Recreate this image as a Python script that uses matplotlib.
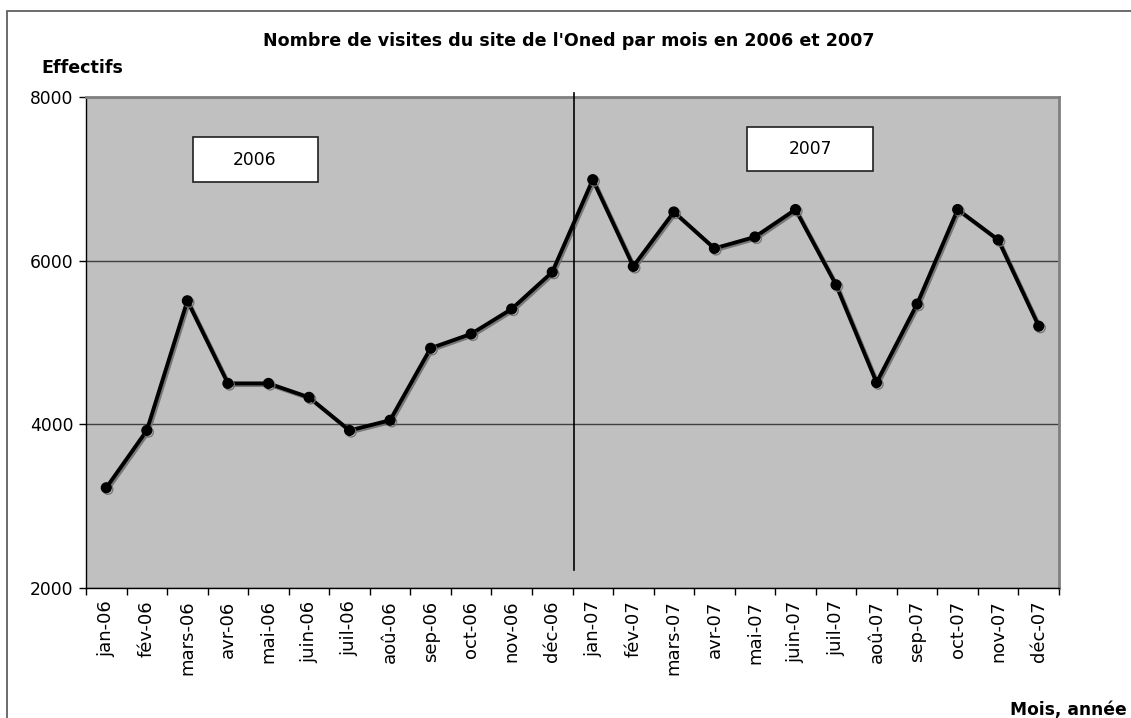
import numpy as np
import matplotlib
matplotlib.use("Agg")
import matplotlib.pyplot as plt
import matplotlib.patheffects as pe
from matplotlib.patches import Rectangle

mois = ["jan-06", "fév-06", "mars-06", "avr-06", "mai-06", "juin-06",
        "juil-06", "aoû-06", "sep-06", "oct-06", "nov-06", "déc-06",
        "jan-07", "fév-07", "mars-07", "avr-07", "mai-07", "juin-07",
        "juil-07", "aoû-07", "sep-07", "oct-07", "nov-07", "déc-07"]
visites = [3225, 3925, 5510, 4500, 4500, 4330, 3925, 4050, 4930, 5105, 5410, 5860,
           6990, 5930, 6595, 6150, 6290, 6625, 5705, 4510, 5470, 6625, 6255, 5200]
yticks = [2000, 4000, 6000, 8000]

plt.rcParams['font.family'] = ['DejaVu Sans']

W, H = 1131, 718
fig = plt.figure(figsize=(W / 100, H / 100), dpi=100)

def fx(px):
    return px / W

def fy(py):
    return 1 - py / H

# outer chart frame (runs off right/bottom edges)
fig.patches.append(Rectangle((fx(7), fy(760)), fx(1200), (760 - 11) / H,
                             transform=fig.transFigure, fill=False,
                             edgecolor='#606060', linewidth=1.3))

ax = fig.add_axes([fx(86), fy(588), fx(1059 - 86), (588 - 97) / H])
ax.set_facecolor('#c0c0c0')

x = np.arange(len(mois))
ax.plot(x, visites, color='black', linewidth=2.8, marker='o', markersize=7,
        path_effects=[pe.SimpleLineShadow(offset=(1.2, -1.2), shadow_color='#707070', alpha=0.9),
                      pe.Normal()], zorder=5)

ax.set_xlim(-0.5, len(mois) - 0.5)
ax.set_ylim(2000, 8000)
ax.set_yticks(yticks)
ax.set_yticklabels([str(v) for v in yticks], fontsize=12.3)
ax.yaxis.grid(True, color='#404040', linewidth=1.0)
ax.set_axisbelow(True)

ax.set_xticks(x)
ax.set_xticklabels(mois, rotation=90, fontsize=13)
ax.set_xticks(np.arange(len(mois) + 1) - 0.5, minor=True)
ax.tick_params(axis='x', which='major', length=0, pad=9)
ax.tick_params(axis='x', which='minor', length=5, width=1, direction='out')
ax.tick_params(axis='y', length=5, width=1, direction='out', pad=4)

for s in ['top', 'right']:
    ax.spines[s].set_color('#808080')
    ax.spines[s].set_linewidth(2)
for s in ['left', 'bottom']:
    ax.spines[s].set_color('black')
    ax.spines[s].set_linewidth(1)

# separator between years
ax.plot([11.54, 11.54], [8050, 2220], color='black', linewidth=1.2, clip_on=False, zorder=6)

# year boxes
fig.patches.append(Rectangle((fx(193), fy(182)), fx(318 - 193), (182 - 137) / H,
                             transform=fig.transFigure, facecolor='white',
                             edgecolor='#202020', linewidth=1.2, zorder=9))
fig.text(fx(255), fy(160), "2006", ha='center', va='center', fontsize=12.3, zorder=10)
fig.patches.append(Rectangle((fx(747), fy(171)), fx(873 - 747), (171 - 127) / H,
                             transform=fig.transFigure, facecolor='white',
                             edgecolor='#202020', linewidth=1.2, zorder=9))
fig.text(fx(810), fy(149), "2007", ha='center', va='center', fontsize=12.3, zorder=10)

fig.text(fx(569), fy(41), "Nombre de visites du site de l'Oned par mois en 2006 et 2007",
         ha='center', va='center', fontsize=12.6, fontweight='bold')
fig.text(fx(41), fy(68), "Effectifs", ha='left', va='center', fontsize=12.6, fontweight='bold')
fig.text(fx(1127), fy(710), "Mois, année", ha='right', va='center', fontsize=12.3, fontweight='bold')

fig.savefig("out.png", dpi=100)
